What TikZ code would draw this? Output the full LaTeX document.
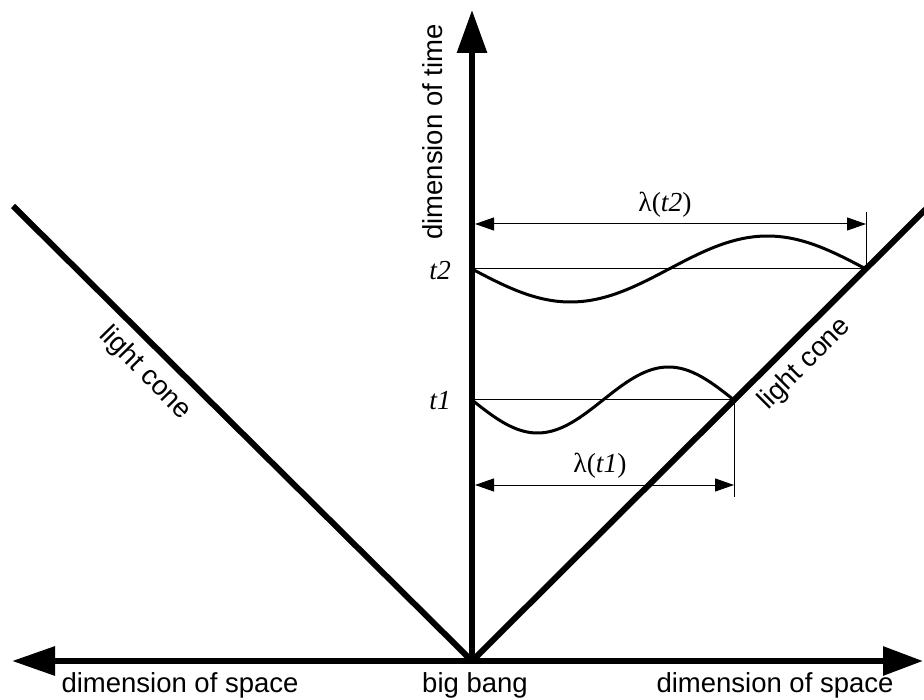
\documentclass[tikz,border=0pt]{standalone}
\usepackage{fontspec}
\setmainfont{Liberation Serif}
\setsansfont{Liberation Sans}
\usetikzlibrary{arrows.meta}
\begin{document}
\begin{tikzpicture}[x=1pt,y=-1pt,
  axis/.style={line width=6pt},
  bigtip/.style={-{Triangle[length=43pt,width=29pt]}},
  bigtips/.style={{Triangle[length=43pt,width=28pt]}-{Triangle[length=40pt,width=28pt]}},
  cone/.style={line width=6pt},
  wave/.style={line width=3pt},
  thinline/.style={line width=1pt},
  dimline/.style={line width=1pt,{Triangle[length=19pt,width=13pt]}-{Triangle[length=19pt,width=13pt]}},
  lab/.style={font=\sffamily\fontsize{27.5}{30}\selectfont, inner sep=0pt},
  mlab/.style={font=\fontsize{27.5}{30}\selectfont, inner sep=0pt}
]
\useasboundingbox (0,0) rectangle (924,700);
% key points
\coordinate (O) at (472,661);
\coordinate (L) at (12,661);
\coordinate (R) at (923,661);
\coordinate (T) at (472,10);
\coordinate (CL) at (13,206);
\coordinate (CR) at (928,207);
\coordinate (A2) at (472,269);
\coordinate (P2) at (866,269);
\coordinate (A1) at (472,400);
\coordinate (P1) at (734,400);
\coordinate (D2s) at (475,224);
\coordinate (D2e) at (866,224);
\coordinate (K2) at (866,212);
\coordinate (D1s) at (475,485);
\coordinate (D1e) at (734,485);
\coordinate (K1) at (734,497);
% axes
\draw[axis,bigtips] (L) -- (R);
\draw[axis,bigtip] (O) -- (T);
% light cone
\draw[cone] (CL) -- (O);
\draw[cone] (O) -- (CR);
% levels
\draw[thinline] (A2) -- (P2);
\draw[thinline] (A1) -- (P1);
% waves
\draw[wave] plot[domain=0:1, samples=100] ({472+394*\x}, {269+33*sin(360*\x)});
\draw[wave] plot[domain=0:1, samples=100] ({472+262*\x}, {400+33*sin(360*\x)});
% dimension lines
\draw[dimline] (D2s) -- (D2e);
\draw[thinline] (K2) -- (P2);
\draw[dimline] (D1s) -- (D1e);
\draw[thinline] (P1) -- (K1);
% labels
\node[mlab] (lam2) at (665,205) {λ(\textit{t2})};
\node[mlab] (lam1) at (600,466) {λ(\textit{t1})};
\node[mlab, anchor=east] (t2) at (451,271) {\textit{t2}};
\node[mlab, anchor=east] (t1) at (451,401) {\textit{t1}};
\node[lab, rotate=90] (dtime) at (433,132) {dimension of time};
\node[lab, anchor=base] (dsl) at (180,692) {dimension of space};
\node[lab, anchor=base] (bb) at (475,692) {big bang};
\node[lab, anchor=base] (dsr) at (775,692) {dimension of space};
\node[lab, rotate=-45.5] (lcl) at (145,373) {light cone};
\node[lab, rotate=45] (lcr) at (805,364) {light cone};
\end{tikzpicture}
\end{document}
